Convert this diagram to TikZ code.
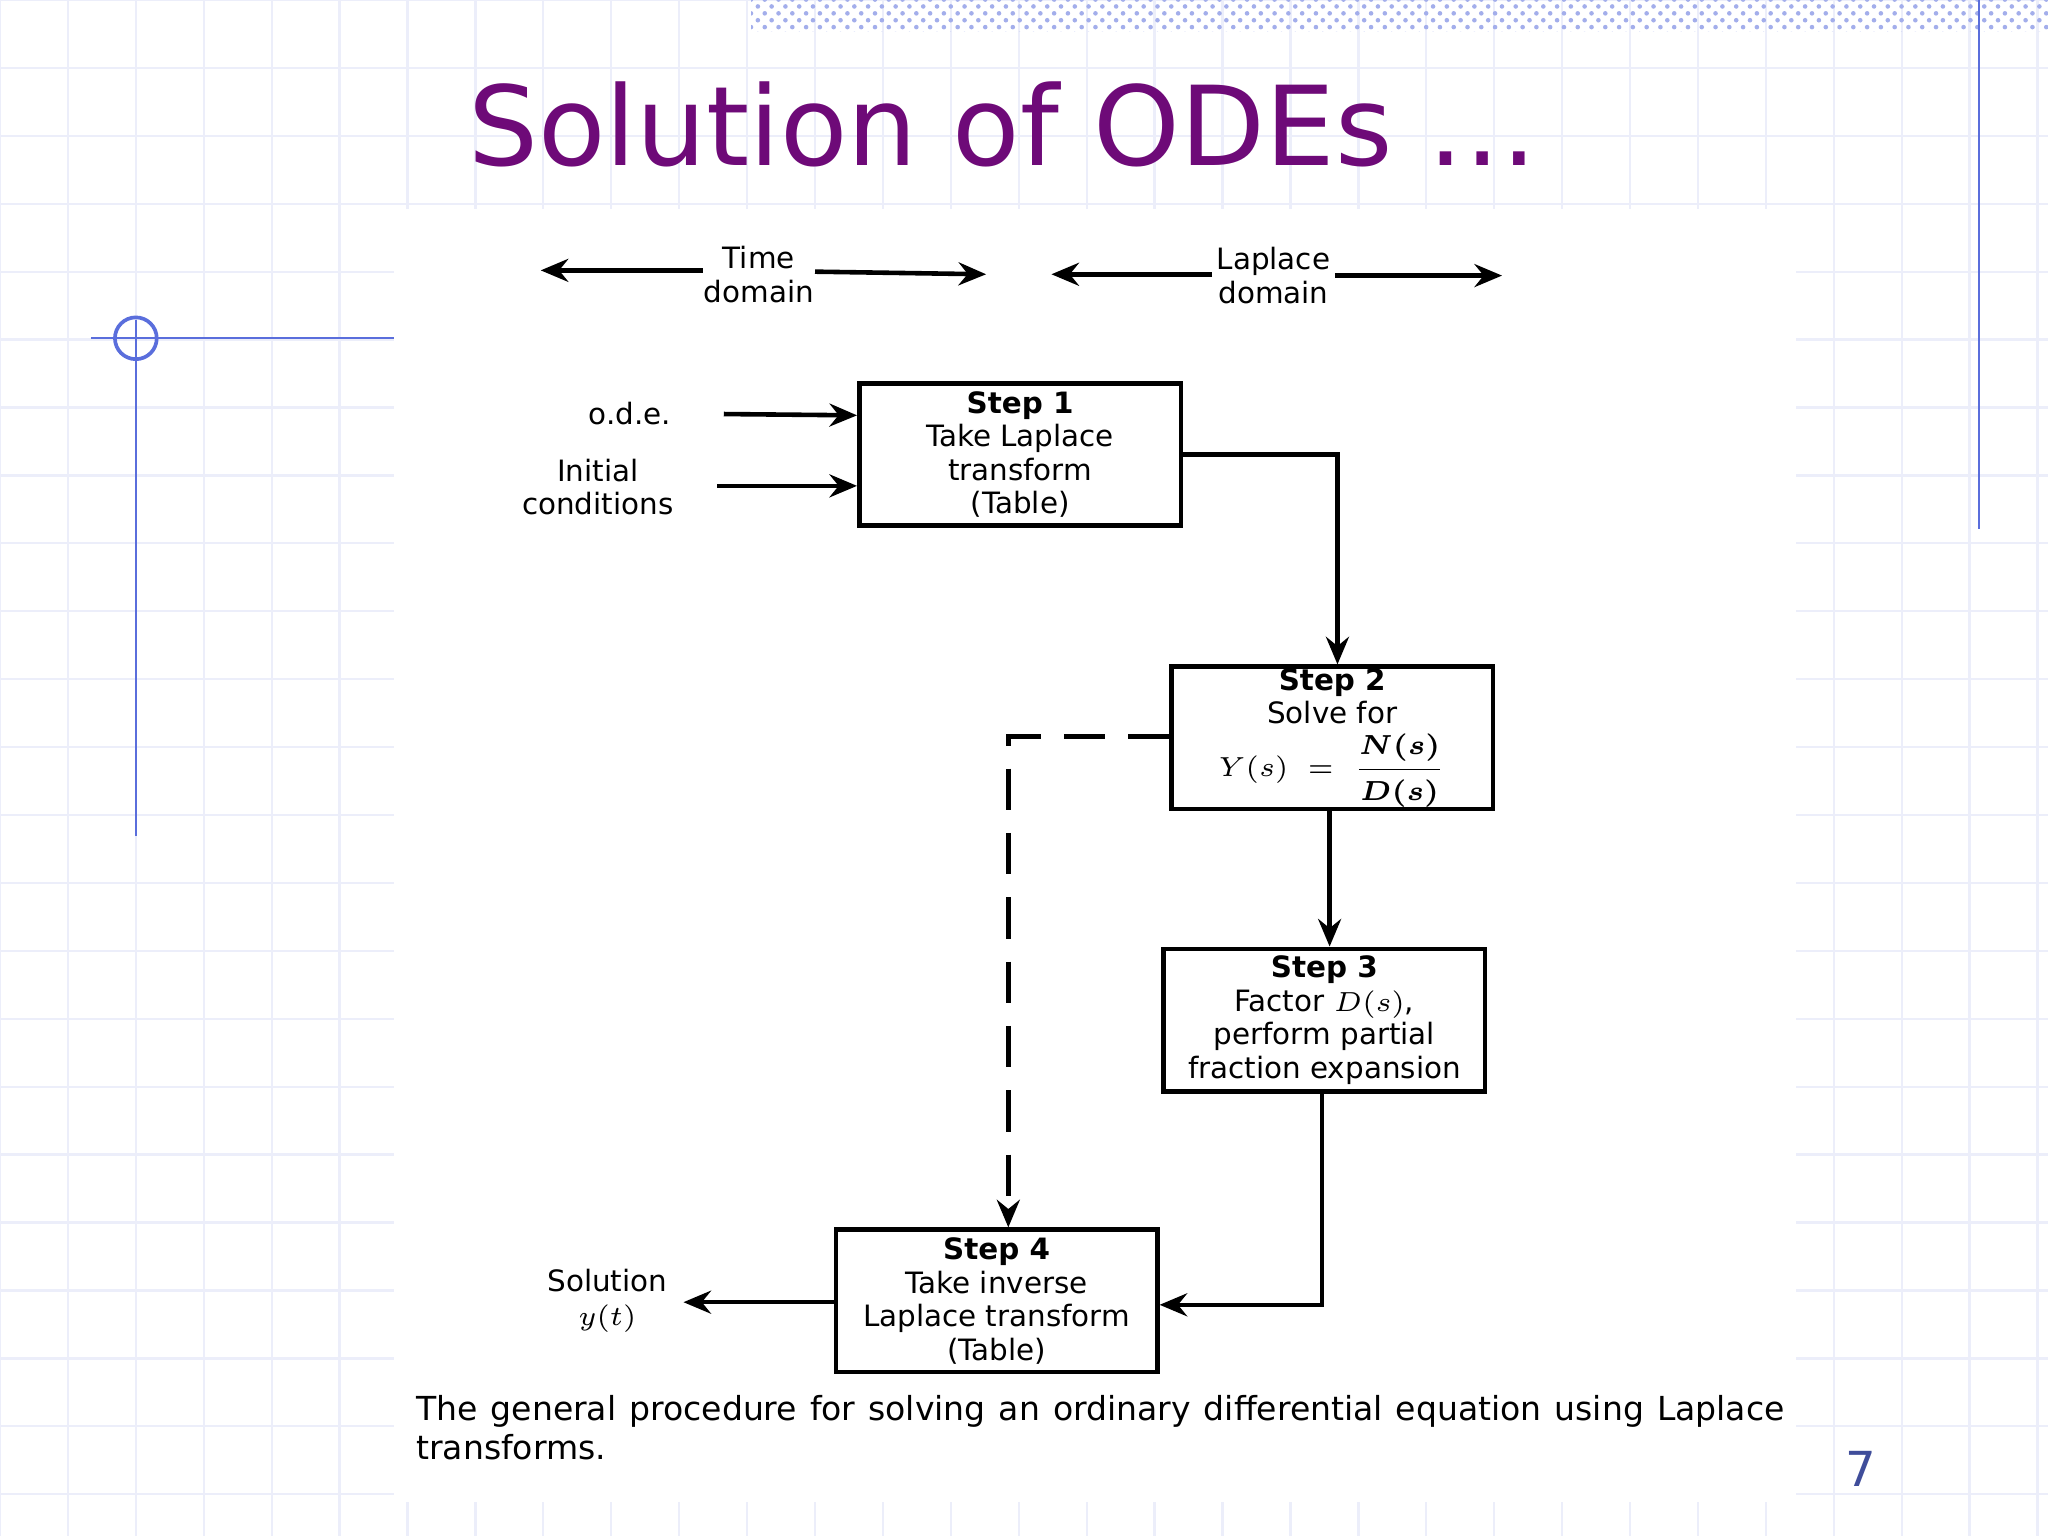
\documentclass[tikz,border=0pt]{standalone}
\usepackage{amsmath}
\usepackage{fontspec}
\setmainfont{DejaVu Sans}
\usetikzlibrary{arrows.meta,patterns}
\definecolor{ttl}{RGB}{110,10,120}
\definecolor{gridc}{RGB}{236,238,250}
\definecolor{bl}{RGB}{90,110,220}
\tikzset{
 stepbox/.style={draw,line width=1pt,minimum width=2.46cm,minimum height=1.09cm,align=center,font=\fontsize{6.4}{7.3}\selectfont,inner sep=0pt},
 lbl/.style={align=center,font=\fontsize{6.4}{7.3}\selectfont},
 arr/.style={line width=1pt,-{Stealth[length=6pt,width=5pt,inset=2pt]}},
 dsh/.style={arr,dash pattern=on 9pt off 5pt}
}
\begin{document}
\begin{tikzpicture}[x=0.01cm,y=-0.01cm]
\useasboundingbox (0,0) rectangle (1568,1176);
\fill[white] (0,0) rectangle (1568,1176);
\foreach \x in {0,52,...,1568} \draw[gridc,line width=0.5pt] (\x,0)--(\x,1176);
\foreach \y in {0,52,...,1176} \draw[gridc,line width=0.5pt] (0,\y)--(1568,\y);
\fill[white] (302,160) rectangle (1375,1150);
\fill[pattern=crosshatch dots,pattern color=gridc!50!bl] (575,0) rectangle (1568,24);
\draw[bl] (1515,0)--(1515,405);
\draw[bl] (70,259)--(302,259);
\draw[bl] (104,245)--(104,640);
\draw[bl,line width=0.8pt] (104,259) circle (16);
\node[ttl,font=\fontsize{24}{28}\selectfont] (title) at (768,95) {Solution of ODEs …};
% domain arrows
\node[lbl] (td) at (581,210) {Time\\domain};
\node[lbl] (ld) at (975,211) {Laplace\\domain};
\coordinate (t1) at (414,207); \coordinate (t2) at (755,210);
\coordinate (l1) at (805,210); \coordinate (l2) at (1150,211);
\draw[arr] (538,207) -- (t1);
\draw[arr] (624,208) -- (t2);
\draw[arr] (928,210) -- (l1);
\draw[arr] (1022,211) -- (l2);
% boxes
\node[stepbox] (s1) at (781,348) {\textbf{Step 1}\\Take Laplace\\transform\\(Table)};
\node[stepbox] (s2) at (1020,565) {\textbf{Step 2}\\Solve for\\[1pt]$Y(s)\;=\;\dfrac{\boldsymbol{N(s)}}{\boldsymbol{D(s)}}$};
\node[stepbox] (s3) at (1014,781) {\textbf{Step 3}\\Factor $D(s)$,\\perform partial\\fraction expansion};
\node[stepbox] (s4) at (763,996) {\textbf{Step 4}\\Take inverse\\Laplace transform\\(Table)};
\node[lbl,anchor=east] (ode) at (526,317) {o.d.e.};
\node[lbl,anchor=east] (ic) at (528,373) {Initial\\conditions};
\node[lbl] (sol) at (465,996) {Solution\\$y(t)$};
\draw[arr] ([xshift=8pt]ode.east) -- (s1.west |- 0,318);
\draw[arr] ([xshift=6pt]ic.east |- 0,372) -- (s1.west |- 0,372);
\draw[arr] (s1.east |- 0,348) -| (s2.north -| 1024,0);
\draw[arr] (s2.south -| 1018,0) -- (s3.north -| 1018,0);
\draw[arr] (s3.south -| 1012,0) |- (s4.east |- 0,999);
\draw[arr] (s4.west |- 0,997) -- (sol.east |- 0,997);
\draw[dsh] (s2.west |- 0,564) -| (s4.north -| 772,0);
\node[anchor=north west,text width=10.47cm,align=justify,inner sep=0pt,font=\fontsize{7.2}{8.4}\selectfont] (cap) at (318,1068) {The general procedure for solving an ordinary differential equation using Laplace transforms.};
\node[text=bl!70!black,font=\fontsize{10.5}{12}\selectfont] (pg) at (1425,1125) {7};
\end{tikzpicture}
\end{document}
